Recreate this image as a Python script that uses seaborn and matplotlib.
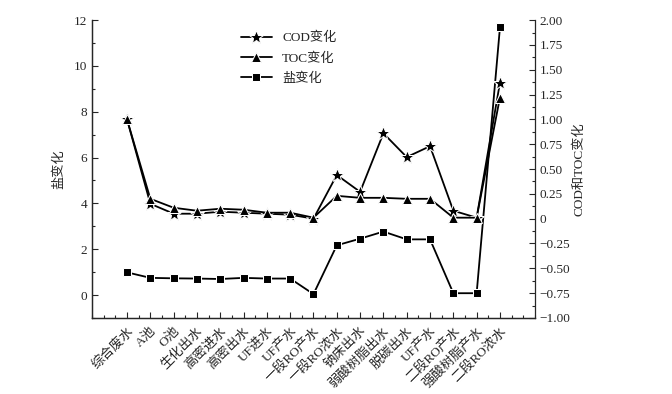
import numpy as np
import pandas as pd
import matplotlib
matplotlib.use("Agg")
import matplotlib.pyplot as plt
import seaborn as sns
from matplotlib.ticker import MultipleLocator, FuncFormatter

# categories (sampling points)
stations = ["综合废水", "A池", "O池", "生化出水", "高密进水", "高密出水", "UF进水", "UF产水",
            "一段RO产水", "一段RO浓水", "钠床出水", "弱酸树脂出水", "脱碳出水", "UF产水",
            "二段RO产水", "强酸树脂产水", "二段RO浓水"]

# salt change (left axis)
salt = [0.99, 0.75, 0.73, 0.72, 0.70, 0.75, 0.72, 0.72,
        0.04, 2.17, 2.46, 2.77, 2.43, 2.43, 0.08, 0.08, 11.68]

# COD / TOC change (right axis)
cod = [1.00, 0.15, 0.05, 0.05, 0.07, 0.06, 0.05, 0.04,
       0.00, 0.44, 0.27, 0.86, 0.62, 0.73, 0.08, 0.01, 1.37]
toc = [1.00, 0.20, 0.11, 0.08, 0.10, 0.09, 0.06, 0.06,
       0.01, 0.23, 0.21, 0.21, 0.20, 0.20, 0.01, 0.01, 1.22]

df = pd.DataFrame({"pos": np.arange(len(stations)), "salt": salt, "cod": cod, "toc": toc})

sns.set_style("ticks")
plt.rcParams["font.family"] = ["Liberation Serif", "Noto Sans CJK SC"]
plt.rcParams["axes.unicode_minus"] = True
plt.rcParams["xtick.direction"] = "in"
plt.rcParams["ytick.direction"] = "in"

fig = plt.figure(figsize=(6.72, 3.94), dpi=100)
ax = fig.add_axes([0.137, 0.193, 0.659, 0.756])
ax2 = ax.twinx()

lw = 1.3
sns.lineplot(data=df, x="pos", y="cod", ax=ax2, color="black", marker="*", markersize=10,
             linewidth=lw, sort=False, label="COD变化", legend=False)
sns.lineplot(data=df, x="pos", y="toc", ax=ax2, color="black", marker="^", markersize=7,
             linewidth=lw, sort=False, label="TOC变化", legend=False)
sns.lineplot(data=df, x="pos", y="salt", ax=ax, color="black", marker="s", markersize=6,
             linewidth=lw, sort=False, label="盐变化", legend=False)

ax.set_xlim(-1.5, 17.5)
ax.set_ylim(-1, 12)
ax2.set_ylim(-1, 2)

ax.set_xticks(df["pos"])
ax.set_xticklabels(stations, rotation=45, ha="right", rotation_mode="anchor", fontsize=9.5)
ax.xaxis.set_minor_locator(MultipleLocator(0.5))
ax.yaxis.set_major_locator(MultipleLocator(2))
ax.yaxis.set_minor_locator(MultipleLocator(1))
ax2.yaxis.set_major_locator(MultipleLocator(0.25))
ax2.yaxis.set_minor_locator(MultipleLocator(0.125))
ax2.yaxis.set_major_formatter(FuncFormatter(lambda v, p: "0" if abs(v) < 1e-9 else f"{v:.2f}".replace("-", "\u2212")))

for a in (ax, ax2):
    a.tick_params(which="major", length=4, width=0.8, labelsize=9.5)
    a.tick_params(which="minor", length=2.5, width=0.8)
    for s in a.spines.values():
        s.set_linewidth(0.9)
ax.tick_params(axis="x", which="both", top=False, pad=5)
ax2.tick_params(axis="y", which="both", left=False)
ax.spines["top"].set_visible(False)
ax2.spines["top"].set_visible(False)
ax.spines["right"].set_visible(False)

ax.set_xlabel("")
ax.set_ylabel("盐变化", fontsize=9.5, labelpad=6)
ax2.set_ylabel("COD和TOC变化", fontsize=9.5, rotation=90, labelpad=2)

h2, l2 = ax2.get_legend_handles_labels()
h1, l1 = ax.get_legend_handles_labels()
ax.legend(h2 + h1, l2 + l1, loc="upper left", bbox_to_anchor=(0.31, 1.0), frameon=False,
          fontsize=9.5, handlelength=2.3, labelspacing=0.6)

fig.savefig("out.png", dpi=100)
